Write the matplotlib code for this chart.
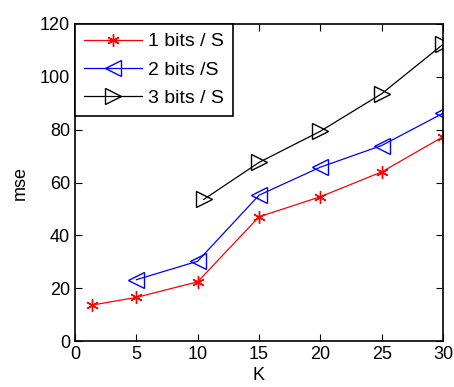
import numpy as np
import matplotlib.pyplot as plt

plt.rcParams['font.family'] = ['Liberation Sans', 'DejaVu Sans']

k1 = [1.4, 5, 10, 15, 20, 25, 30]
mse1 = [13.6, 16.5, 22.4, 47.0, 54.6, 64.0, 77.3]
k2 = [5, 10, 15, 20, 25, 30]
mse2 = [23.2, 30.2, 55.2, 65.8, 74.0, 86.2]
k3 = [10.5, 15, 20, 25, 30]
mse3 = [53.6, 67.6, 79.4, 93.6, 112.3]
labels = ['1 bits / S', '2 bits /S', '3 bits / S']

fig = plt.figure(figsize=(4.54, 3.87), dpi=100)
ax = fig.add_axes([75 / 454, 1 - 341 / 387, 368 / 454, 317 / 387])

ax.plot(k1, mse1, color='red', marker=(6, 2, 0), markersize=9, lw=0.9,
        label=labels[0])
ax.plot(k2, mse2, color='blue', marker='<', markersize=11, lw=0.9,
        fillstyle='none', label=labels[1])
ax.plot(k3, mse3, color='black', marker='>', markersize=11, lw=0.9,
        fillstyle='none', label=labels[2])

ax.set_xlim(0, 30)
ax.set_ylim(0, 120)
ax.set_xticks(np.arange(0, 31, 5))
ax.set_yticks(np.arange(0, 121, 20))
ax.tick_params(direction='in', top=True, right=True, labelsize=13, length=5)
for s in ax.spines.values():
    s.set_linewidth(1.2)
ax.set_xlabel('K', fontsize=13, labelpad=3)
ax.set_ylabel('mse', fontsize=13, labelpad=8)

leg = ax.legend(loc='upper left', fontsize=14, fancybox=False, framealpha=1,
                borderaxespad=0, handlelength=3.0, handletextpad=0.3,
                labelspacing=0.55, borderpad=0.45)
leg.get_frame().set_edgecolor('black')
leg.get_frame().set_linewidth(1.2)

fig.savefig('out.png', dpi=100)
